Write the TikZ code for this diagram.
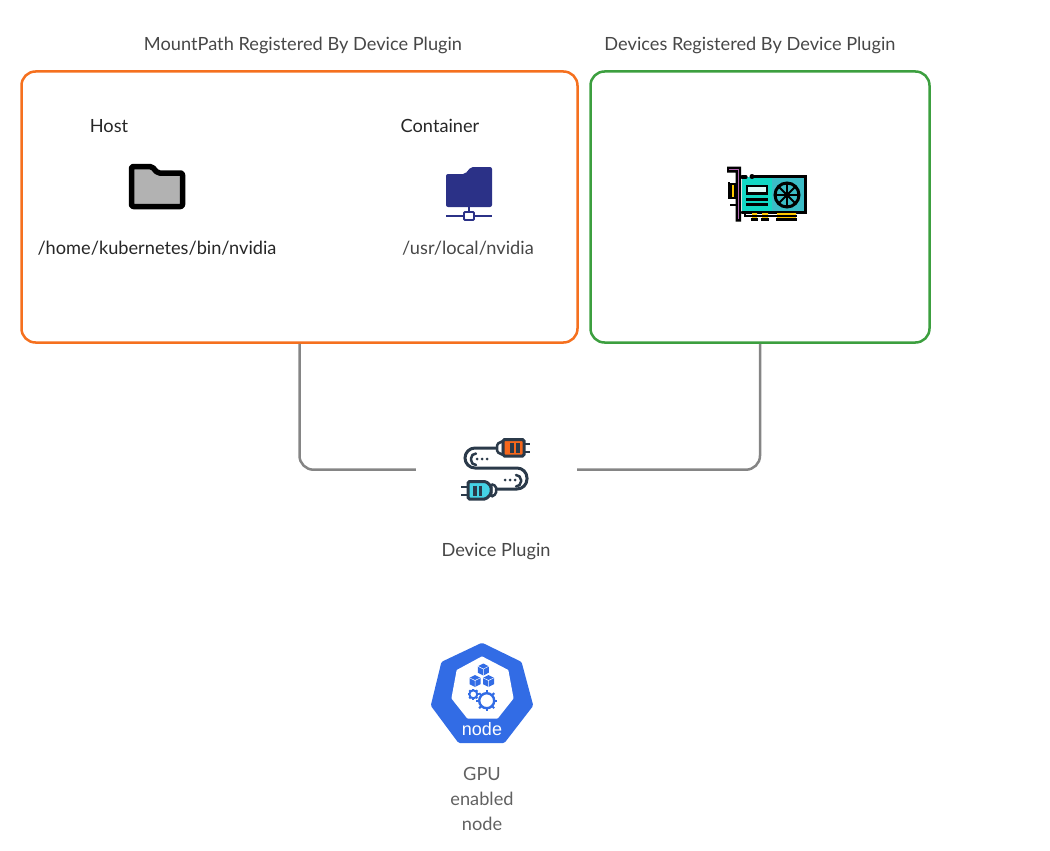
\documentclass[tikz,border=0pt]{standalone}
\usepackage{fontspec}
\setmainfont{Lato}
\newfontfamily\nodefont{Liberation Sans}
\usepackage{xcolor}
\usetikzlibrary{arrows.meta,positioning,calc}
\definecolor{mountorange}{HTML}{F5701E}
\definecolor{devgreen}{HTML}{3C9F3F}
\definecolor{linkgray}{HTML}{858585}
\definecolor{plugdark}{HTML}{2B3A4A}
\definecolor{plugcyan}{HTML}{45D3E5}
\definecolor{kubeblue}{HTML}{326CE5}
\definecolor{netblue}{HTML}{2B3187}
\definecolor{cardteal}{HTML}{12D8C4}
\definecolor{fanteal}{HTML}{3BBCC6}
\definecolor{padyellow}{HTML}{FFC800}
% one gear: #1 = centre, #2 = radius, #3 = stroke width
\newcommand{\gearicon}[3]{
  \draw[kubeblue, line width=#3] #1 circle (#2);
  \foreach \a in {0,45,...,315}
    \draw[kubeblue, line width=2pt] #1 ++(\a:#2) -- ++(\a:#2*0.42);
}
% one small cube: #1 = centre
\newcommand{\cubeicon}[1]{
  \fill[kubeblue, shift={#1}] (0,-6) -- (5.5,-3.2) -- (5.5,3.2) -- (0,6) -- (-5.5,3.2) -- (-5.5,-3.2) -- cycle;
  \draw[white, line width=0.5pt, shift={#1}] (-5.5,-3.2) -- (0,-0.5) -- (5.5,-3.2) (0,-0.5) -- (0,6);
}
\begin{document}
\begin{tikzpicture}[
  x=1pt, y=-1pt,
  >=Stealth,
  regbox/.style={draw, line width=2.5pt, rounded corners=14pt, minimum height=271pt},
  heading/.style={font=\fontsize{18.2}{25}\selectfont, text=black!72},
  pathtext/.style={font=\fontsize{18.2}{25}\selectfont, text=black!85},
  caption/.style={font=\fontsize{18.2}{25}\selectfont, text=black!72, align=center},
  link/.style={draw=linkgray, line width=2.5pt, rounded corners=14pt}
]
  \useasboundingbox (0,0) rectangle (1050,851);

  \node[regbox, draw=mountorange, minimum width=556pt] (mountbox) at (299.5,207) {};
  \node[regbox, draw=devgreen, minimum width=339pt] (devbox) at (760,207) {};
  \node[heading] (mounttitle) at (303,45.5) {MountPath Registered By Device Plugin};
  \node[heading] (devtitle) at (750,45.5) {Devices Registered By Device Plugin};

  \node[pathtext] (hostlabel) at (109,126) {Host};
  \node[pathtext] (containerlabel) at (440,126) {Container};
  \node[pathtext] (hostpath) at (157,248) {/home/kubernetes/bin/nvidia};
  \node[pathtext, text=black!72] (containerpath) at (468,248) {/usr/local/nvidia};

  \node[minimum width=161pt, minimum height=60pt, inner sep=0pt] (plugin) at (496.5,469.7) {};
  \node[caption] (pluginlabel) at (496,551) {Device Plugin};
  \node[caption, text=black!62] (gpulabel) at (482,798.5) {GPU\\enabled\\node};

  \draw[link] (mountbox.south) |- (plugin.west);
  \draw[link] (devbox.south) |- (plugin.east);

  % host folder
  \draw[black, fill=black!30, line width=5.5pt, line join=round, rounded corners=2pt]
    (131.5,166.5) -- (152,166.5) -- (157.5,173) -- (182.5,173) -- (182.5,206.5) -- (131.5,206.5) -- cycle;

  % container folder
  \fill[netblue, rounded corners=2pt]
    (446,174) -- (465,174) -- (471,167) -- (492,167) -- (492,207) -- (446,207) -- cycle;
  \draw[netblue, line width=1.8pt] (469,207) -- (469,212) (446,216) -- (463,216) (475,216) -- (492,216);
  \draw[netblue, line width=1.8pt, rounded corners=1pt] (464,212) rectangle (474,220);

  % gpu card
  \fill[fanteal] (770,177) rectangle (806,212);
  \fill[cardteal] (742,177) rectangle (772,212);
  \draw[black, line width=3.2pt, line cap=round] (746,177) -- (742,177) (752,176.5) -- (805.5,176.5) -- (805.5,212.5) -- (742,212.5);
  \fill[black] (752,176.5) circle (2.5pt);
  \fill[padyellow] (752,213) rectangle (757,220) (762,213) rectangle (768,220) (777,213) rectangle (796,220);
  \draw[black, line width=2.5pt] (745,213) -- (745,216) -- (797,216) (751,219.5) -- (758,219.5) (761,219.5) -- (769,219.5) (776,219.5) -- (797,219.5);
  \draw[black, line width=2.8pt, fill=white!85!cardteal] (747,186) rectangle (767,193.5);
  \draw[black, line width=2.8pt] (746,199.5) -- (768,199.5) (746,204.5) -- (768,204.5);
  \draw[black, line width=3pt, fill=fanteal] (787,195) circle (12pt);
  \foreach \a in {0,45,...,135}
    \draw[black, line width=1.8pt] (787,195) ++(\a:12) -- ++(\a:-24);
  \fill[black] (787,195) circle (3pt);
  \draw[black, fill=padyellow, line width=2pt] (731,184) rectangle (735,198);
  \draw[black, line width=2.5pt] (729,182) -- (729,199) (730,205) -- (737,205);
  \fill[black] (727,166.5) rectangle (741,172.5) (735.5,166.5) rectangle (741,221.5);
  \draw[violet!60, line width=1.2pt] (729,169.5) -- (738.5,169.5) -- (738.5,219);

  % plugin icon
  \draw[plugdark, line width=3pt, line cap=round, rounded corners=10pt]
    (498,448) -- (465,448) -- (465,468) -- (527,468) -- (527,489) -- (495,489);
  \draw[plugdark, line width=2.5pt, fill=white, rounded corners=1.5pt] (497,444) -- (503,441) -- (503,455) -- (497,452) -- cycle;
  \draw[plugdark, line width=2.5pt, fill=white, rounded corners=1.5pt] (496,486) -- (491,484) -- (491,497) -- (496,494) -- cycle;
  \draw[plugdark, line width=3pt, fill=mountorange!92!red, rounded corners=1.5pt] (503,439.5) rectangle (524,456);
  \draw[plugdark, line width=3pt, fill=plugcyan, rounded corners=1.5pt] (468,481.5) -- (486,481.5) -- (491,486) -- (491,494) -- (486,499) -- (468,499) -- cycle;
  \draw[plugdark, line width=3.2pt] (512,443) -- (512,453) (518,443) -- (518,453) (475,485.5) -- (475,496) (480.5,485.5) -- (480.5,496);
  \draw[plugdark, line width=2.5pt] (524,444) -- (530,444) (524,452) -- (530,452) (461,487) -- (468,487) (461,495) -- (468,495);
  \draw[plugdark, line width=2.5pt, line cap=round, rounded corners=5pt] (476,453.5) -- (471,453.5) -- (471,465) -- (476,465);
  \draw[plugdark, line width=2.5pt, line cap=round, rounded corners=5pt] (516,475) -- (521,475) -- (521,486.5) -- (516,486.5);
  \foreach \x in {477,482,487} \fill[plugdark] (\x,459) circle (1.5pt);
  \foreach \x in {505,510,515} \fill[plugdark] (\x,480) circle (1.5pt);

  % kubernetes node icon
  \draw[kubeblue, fill=kubeblue, line width=6pt, line join=round]
    (482,646) -- (519,664) -- (530,705) -- (503,740) -- (460,740) -- (434,705) -- (444,664) -- cycle;
  \draw[white, fill=white, line width=3pt, line join=round]
    (482,658) -- (507,671) -- (512,698) -- (497,717) -- (468,717) -- (453,698) -- (458,671) -- cycle;
  \cubeicon{(483.3,669.5)}
  \cubeicon{(475,681)}
  \cubeicon{(488.5,681)}
  \gearicon{(473.3,694.3)}{4}{2pt}
  \gearicon{(486.7,700.7)}{7.5}{2.4pt}
  \node[text=white, font=\nodefont\fontsize{18}{20}\selectfont] (nodetext) at (482,729.5) {node};
\end{tikzpicture}
\end{document}
